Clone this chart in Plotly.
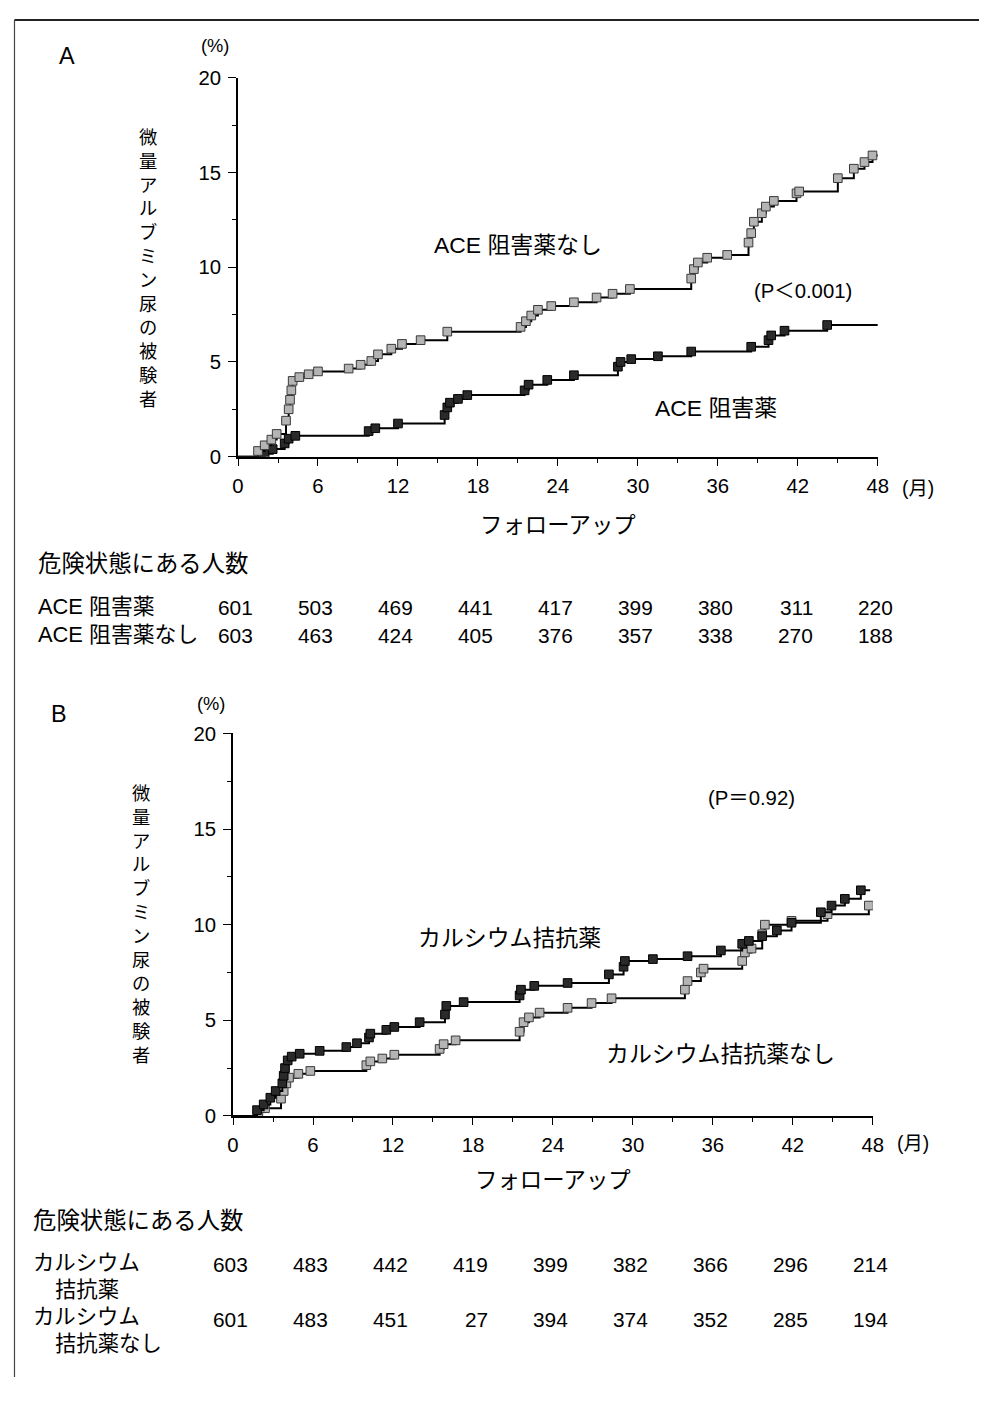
import plotly.graph_objects as go

# Figure size; the photographed page shows the figure slightly scaled and offset,
# so positions below are given in the reference's pixel space and mapped through CAL.
W, H = 982, 1380
CAL_S, CAL_X, CAL_Y = 0.983, 12.9, 19.3
K = 1 / CAL_S

# ---------------- data ----------------
# Panel A: ACE inhibitor (black squares) vs no ACE inhibitor (gray squares)
a_none_t = [0, 1.5, 2.0, 2.5, 2.9, 3.6, 3.8, 3.9, 4.0, 4.1, 4.6, 5.3, 6.0, 8.3, 9.2, 10.0, 10.5,
            11.5, 12.3, 13.7, 15.7, 21.2, 21.6, 22.0, 22.5, 23.5, 25.2, 26.9, 28.1, 29.4, 34.0,
            34.2, 34.5, 35.2, 36.7, 38.3, 38.5, 38.7, 39.3, 39.6, 40.2, 41.9, 42.1, 45.0, 46.2,
            47.0, 47.6, 48.0]
a_none_v = [0, 0.3, 0.6, 0.9, 1.2, 1.9, 2.5, 3.0, 3.5, 4.0, 4.2, 4.35, 4.5, 4.65, 4.85, 5.05, 5.4,
            5.7, 5.95, 6.15, 6.6, 6.85, 7.15, 7.45, 7.75, 7.95, 8.15, 8.4, 8.6, 8.85, 9.4,
            9.9, 10.25, 10.5, 10.65, 11.3, 11.8, 12.4, 12.85, 13.2, 13.5, 13.9, 14.0, 14.7, 15.2,
            15.55, 15.9, 15.9]
a_ace_t = [0, 2.0, 2.6, 3.5, 3.8, 4.3, 9.8, 10.3, 12.0, 15.5, 15.7, 15.9, 16.5, 17.2, 21.5, 21.8,
           23.2, 25.2, 28.5, 28.7, 29.5, 31.5, 34.0, 38.5, 39.8, 40.0, 41.0, 44.2, 48.0]
a_ace_v = [0, 0.15, 0.4, 0.7, 0.95, 1.1, 1.35, 1.5, 1.75, 2.2, 2.6, 2.85, 3.05, 3.25, 3.5, 3.8,
           4.05, 4.3, 4.75, 5.0, 5.15, 5.3, 5.55, 5.8, 6.15, 6.4, 6.65, 6.95, 6.95]

# Panel B: calcium antagonist (black squares) vs none (gray squares)
b_ca_t = [0, 1.8, 2.3, 2.8, 3.2, 3.7, 3.8, 3.9, 4.1, 4.4, 5.0, 6.5, 8.5, 9.3, 10.2, 10.3, 11.5,
          12.1, 14.0, 15.9, 16.0, 17.3, 21.5, 21.6, 22.6, 25.1, 28.2, 29.3, 29.4, 31.5, 34.1,
          36.6, 38.2, 38.7, 39.7, 40.8, 41.9, 44.1, 44.9, 45.9, 47.1, 47.8]
b_ca_v = [0, 0.3, 0.6, 0.95, 1.3, 1.7, 2.1, 2.5, 2.9, 3.1, 3.25, 3.4, 3.6, 3.8, 4.1, 4.3, 4.5,
          4.65, 4.9, 5.3, 5.75, 5.95, 6.3, 6.6, 6.8, 6.95, 7.4, 7.8, 8.1, 8.2, 8.35,
          8.65, 9.0, 9.15, 9.4, 9.7, 10.1, 10.65, 11.0, 11.35, 11.8, 11.8]
b_none_t = [0, 1.9, 2.4, 3.6, 3.8, 4.0, 4.2, 4.9, 5.8, 10.0, 10.3, 11.2, 12.1, 15.5, 15.8, 16.7,
            21.5, 21.8, 22.2, 23.0, 25.1, 26.9, 28.4, 33.9, 34.1, 35.1, 35.3, 38.2, 38.4, 38.9,
            39.7, 39.9, 41.9, 44.6, 47.7, 47.8]
b_none_v = [0, 0.2, 0.4, 0.9, 1.3, 1.7, 2.0, 2.2, 2.35, 2.65, 2.85, 3.0, 3.2, 3.5, 3.75, 3.95,
            4.4, 4.9, 5.15, 5.4, 5.65, 5.9, 6.15, 6.6, 7.05, 7.5, 7.7, 8.1, 8.55, 8.75,
            9.5, 10.0, 10.2, 10.55, 11.0, 11.0]

months = [0, 6, 12, 18, 24, 30, 36, 42, 48]
a_risk_ace = ["601", "503", "469", "441", "417", "399", "380", "311", "220"]
a_risk_none = ["603", "463", "424", "405", "376", "357", "338", "270", "188"]
b_risk_ca = ["603", "483", "442", "419", "399", "382", "366", "296", "214"]
b_risk_none = ["601", "483", "451", "27", "394", "374", "352", "285", "194"]

ylabel_chars = list("微量アルブミン尿の被験者")

# ---------------- helpers ----------------
def px(x):
    return max(0.5, (x - CAL_X) / CAL_S) / W


def py(y):
    return 1 - max(1.0, (y - CAL_Y) / CAL_S) / H


JP = "Liberation Sans, Noto Sans CJK JP, sans-serif"
NUM = "Liberation Sans, Arial, sans-serif"

GRAY_MK = dict(symbol="square", size=8.5 * K, color="#b4b4b4", line=dict(color="#3a3a3a", width=1))
BLACK_MK = dict(symbol="square", size=8.5 * K, color="#2a2a2a", line=dict(color="#000000", width=1))

fig = go.Figure()


def add_curve(t, v, mk, xa, ya):
    fig.add_trace(go.Scatter(x=t, y=v, mode="lines", line=dict(color="black", width=2, shape="hv"),
                             xaxis=xa, yaxis=ya, showlegend=False, hoverinfo="skip"))
    fig.add_trace(go.Scatter(x=t[1:-1], y=v[1:-1], mode="markers", marker=mk,
                             xaxis=xa, yaxis=ya, showlegend=False, hoverinfo="skip"))


add_curve(a_ace_t, a_ace_v, BLACK_MK, "x", "y")
add_curve(a_none_t, a_none_v, GRAY_MK, "x", "y")
add_curve(b_none_t, b_none_v, GRAY_MK, "x2", "y2")
add_curve(b_ca_t, b_ca_v, BLACK_MK, "x2", "y2")

xcommon = dict(range=[0, 48], tickvals=months, ticks="outside", ticklen=7 * K, tickwidth=1.2,
               tickcolor="black", showline=True, linecolor="black", linewidth=2,
               showgrid=False, zeroline=False, fixedrange=True,
               tickfont=dict(family=NUM, size=20 * K, color="black"), ticklabelstandoff=3,
               minor=dict(dtick=3, tick0=0, ticks="outside", ticklen=4 * K, tickcolor="black", tickwidth=1))
ycommon = dict(range=[0, 20], tickvals=[0, 5, 10, 15, 20], ticks="outside", ticklen=8 * K, tickwidth=1.2,
               tickcolor="black", showline=True, linecolor="black", linewidth=1.5,
               showgrid=False, zeroline=False, fixedrange=True,
               tickfont=dict(family=NUM, size=20 * K, color="black"), ticklabelstandoff=3,
               minor=dict(dtick=2.5, tick0=0, ticks="outside", ticklen=4 * K, tickcolor="black", tickwidth=1))

fig.update_layout(
    width=W, height=H, margin=dict(l=0, r=0, t=0, b=0),
    paper_bgcolor="white", plot_bgcolor="rgba(0,0,0,0)",
    xaxis=dict(domain=[px(237), px(877)], anchor="y", **xcommon),
    yaxis=dict(domain=[py(456.5), py(78)], anchor="x", **ycommon),
    xaxis2=dict(domain=[px(232), px(872)], anchor="y2", **xcommon),
    yaxis2=dict(domain=[py(1115), py(733)], anchor="x2", **ycommon),
)

ann = []


def text(x, y, s, size=20, family=JP, xanchor="center", yanchor="middle", xref="paper", xshift=0):
    ann.append(dict(x=x, y=y, xref=xref, yref="paper", text=s, showarrow=False,
                    xanchor=xanchor, yanchor=yanchor, xshift=xshift * K,
                    font=dict(family=family, size=size * K, color="black")))


ylabel = "<br>".join(ylabel_chars)

# Panel A
text(px(66), py(56), "A", size=23, family=NUM)
text(px(214), py(46), "(%)", size=18)
text(px(147), py(269), ylabel, size=18)
text(px(517), py(245), "ACE 阻害薬なし", size=22.5)
text(px(802), py(291), "(P＜0.001)", size=20)
text(px(715), py(408), "ACE 阻害薬", size=22.5)
text(px(917), py(488), "(月)", size=19)
text(px(557), py(525), "フォローアップ", size=22)
text(px(35), py(564), "危険状態にある人数", size=23, xanchor="left")
text(px(35), py(606), "ACE 阻害薬", size=21.5, xanchor="left")
text(px(35), py(634), "ACE 阻害薬なし", size=21.5, xanchor="left")
for m, r1, r2 in zip(months, a_risk_ace, a_risk_none):
    text(m, py(607), r1, size=20.5, family=NUM, xanchor="right", xref="x", xshift=17)
    text(m, py(635), r2, size=20.5, family=NUM, xanchor="right", xref="x", xshift=17)

# Panel B
text(px(58), py(714), "B", size=23, family=NUM)
text(px(210), py(703), "(%)", size=18)
text(px(140), py(924), ylabel, size=18)
text(px(751), py(797), "(P＝0.92)", size=20)
text(px(509), py(937), "カルシウム拮抗薬", size=22.5)
text(px(720), py(1053), "カルシウム拮抗薬なし", size=22.5)
text(px(912), py(1143), "(月)", size=19)
text(px(552), py(1180), "フォローアップ", size=22)
text(px(30), py(1220), "危険状態にある人数", size=23, xanchor="left")
text(px(30), py(1262), "カルシウム", size=21, xanchor="left")
text(px(52), py(1289), "拮抗薬", size=21, xanchor="left")
text(px(30), py(1316), "カルシウム", size=21, xanchor="left")
text(px(52), py(1343), "拮抗薬なし", size=21, xanchor="left")
for m, r1, r2 in zip(months, b_risk_ca, b_risk_none):
    text(m, py(1263), r1, size=20.5, family=NUM, xanchor="right", xref="x2", xshift=17)
    text(m, py(1318), r2, size=20.5, family=NUM, xanchor="right", xref="x2", xshift=17)

fig.update_layout(annotations=ann)

# frame lines (top and left of the scanned page)
fig.add_shape(type="line", xref="paper", yref="paper", x0=px(7), x1=1, y0=py(8), y1=py(8),
              line=dict(color="#222", width=2))
fig.add_shape(type="line", xref="paper", yref="paper", x0=px(7), x1=px(7), y0=py(8), y1=0,
              line=dict(color="#444", width=1.2))

fig.write_html("out.html")
